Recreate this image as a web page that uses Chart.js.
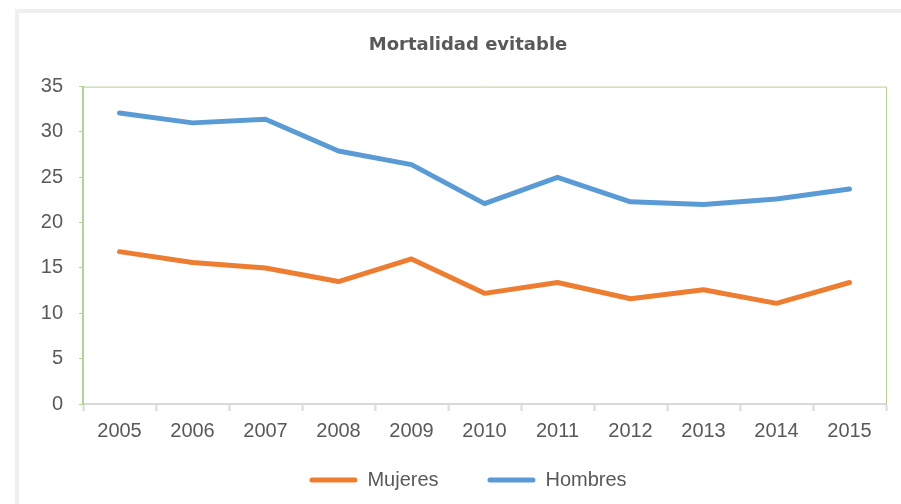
<!DOCTYPE html>
<html>
<head>
<meta charset="utf-8">
<script src="https://cdn.jsdelivr.net/npm/chart.js@4/dist/chart.umd.min.js"></script>
<style>
  html, body { margin: 0; padding: 0; width: 901px; height: 504px; overflow: hidden; background: #ffffff; }
  #frame { position: absolute; left: 15px; top: 9px; width: 1000px; height: 600px; border-left: 4px solid #eef0ef; border-top: 4px solid #eef0ef; box-sizing: border-box; }
  #wrap { position: absolute; left: 0; top: 0; width: 940px; height: 504px; }
</style>
</head>
<body>
<div id="frame"></div>
<div id="wrap"><canvas id="c"></canvas></div>
<script>
const titleText = "Mortalidad evitable";
const seriesNames = ["Mujeres", "Hombres"];
const years = ["2005","2006","2007","2008","2009","2010","2011","2012","2013","2014","2015"];
const mujeres = [16.8, 15.6, 15.0, 13.5, 16.0, 12.2, 13.4, 11.6, 12.6, 11.1, 13.4];
const hombres = [32.1, 31.0, 31.4, 27.9, 26.4, 22.1, 25.0, 22.3, 22.0, 22.6, 23.7];
const yTicks = [0, 5, 10, 15, 20, 25, 30, 35];

const GREEN = '#b7cf98';
const GRAY_AX = '#d9d9d9';
const TXT = '#595959';
const FONT = "'Liberation Sans', Arial, sans-serif";
const COLORS = ['#ed7d31', '#5b9bd5'];

const plotFrame = {
  id: 'plotFrame',
  beforeDatasetsDraw(chart) {
    const a = chart.chartArea, ctx = chart.ctx;
    ctx.save();
    ctx.strokeStyle = GREEN;
    ctx.lineWidth = 1;
    ctx.beginPath();
    ctx.moveTo(a.left, a.top + 0.5);
    ctx.lineTo(a.right + 0.5, a.top + 0.5);
    ctx.lineTo(a.right + 0.5, a.bottom);
    ctx.stroke();
    ctx.restore();
  }
};

// shift title and legend so they are centred like in the original panel
const centerShift = {
  id: 'centerShift',
  afterLayout(chart) {
    const dx = 25;
    [chart.titleBlock, chart.legend].forEach(b => { if (b) { b.left += dx; b.right += dx; } });
  }
};

new Chart(document.getElementById('c'), {
  type: 'line',
  data: {
    labels: years,
    datasets: [
      { label: seriesNames[0], data: mujeres, borderColor: COLORS[0], backgroundColor: COLORS[0], borderWidth: 5, pointRadius: 0, borderCapStyle: 'round', borderJoinStyle: 'round', tension: 0 },
      { label: seriesNames[1], data: hombres, borderColor: COLORS[1], backgroundColor: COLORS[1], borderWidth: 5, pointRadius: 0, borderCapStyle: 'round', borderJoinStyle: 'round', tension: 0 }
    ]
  },
  options: {
    responsive: true,
    maintainAspectRatio: false,
    animation: false,
    layout: { padding: { left: 0, right: 54, top: 0, bottom: 4 } },
    plugins: {
      title: { display: true, text: titleText, color: TXT, font: { family: "'DejaVu Sans', sans-serif", size: 18, weight: 'bold' }, padding: { top: 35, bottom: 30 } },
      legend: {
        position: 'bottom',
        labels: {
          color: TXT, font: { family: FONT, size: 20 },
          boxWidth: 48, boxHeight: 5, useBorderRadius: true, borderRadius: 2.5, padding: 10,
          generateLabels(chart) {
            return chart.data.datasets.map((ds, i) => ({
              text: i === 0 ? ds.label + '       ' : ds.label,
              fillStyle: ds.borderColor, strokeStyle: ds.borderColor, lineWidth: 0,
              fontColor: TXT, hidden: false, datasetIndex: i, borderRadius: 2.5
            }));
          }
        }
      },
      tooltip: { enabled: false }
    },
    scales: {
      x: {
        offset: true,
        afterFit(scale) { scale.height = 56; },
        grid: { display: true, offset: true, drawOnChartArea: false, drawTicks: true, tickLength: 7, tickColor: GRAY_AX, tickWidth: 2 },
        border: { display: true, color: GRAY_AX, width: 2 },
        ticks: { color: TXT, font: { family: FONT, size: 20 }, padding: 8, maxRotation: 0 }
      },
      y: {
        min: 0, max: 35,
        afterBuildTicks(scale) { scale.ticks = yTicks.map(v => ({ value: v })); },
        afterFit(scale) { scale.width = 83; },
        grid: { display: true, drawOnChartArea: false, drawTicks: true, tickLength: 4, tickColor: GREEN, tickWidth: 1 },
        border: { display: true, color: GREEN, width: 2 },
        ticks: { color: TXT, font: { family: FONT, size: 20 }, padding: 16 }
      }
    }
  },
  plugins: [plotFrame, centerShift]
});
</script>
</body>
</html>
